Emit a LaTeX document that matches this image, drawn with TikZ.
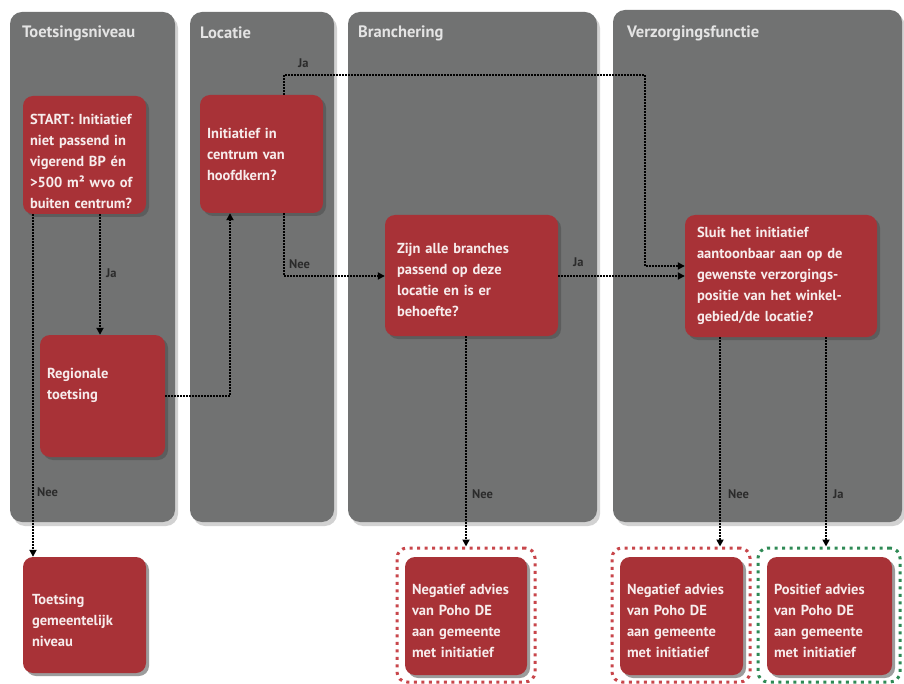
\documentclass[tikz,border=0pt]{standalone}
\usepackage{fontspec}
\setmainfont{PT Sans}
\usetikzlibrary{shadows,arrows.meta}
\definecolor{lanegray}{HTML}{717272}
\definecolor{boxred}{HTML}{A83237}
\definecolor{txtwhite}{HTML}{F7ECEC}
\definecolor{hdrtxt}{HTML}{E4E4E4}
\definecolor{negdot}{HTML}{C8464B}
\definecolor{posdot}{HTML}{2F8A55}
\definecolor{lbl}{HTML}{2B2B2B}
\tikzset{
 lane/.style={fill=lanegray, rounded corners=12pt, drop shadow={shadow xshift=3pt, shadow yshift=-4pt, opacity=0.35, fill=black!50}},
 hdr/.style={anchor=west, text=hdrtxt, font=\fontsize{16.5}{18}\selectfont\bfseries, inner sep=0pt},
 redbox/.style={fill=boxred, rounded corners=10pt, text=txtwhite, align=left, font=\fontsize{14.5}{21}\selectfont\bfseries, inner xsep=7pt, inner ysep=0pt, drop shadow={shadow xshift=3pt, shadow yshift=-3pt, opacity=0.55, fill=black!70}},
 tshift/.style={execute at end node={\par\vspace*{#1}}},
 frame/.style={fill=white, rounded corners=10pt, line width=3pt, dash pattern=on 3pt off 4.5pt, inner sep=0pt},
 conn/.style={line width=2.2pt, dash pattern=on 1.5pt off 1.5pt, draw=black, -{Triangle[length=7pt,width=7pt]}},
 lab/.style={anchor=west, text=lbl, font=\fontsize{12.5}{14}\selectfont\bfseries, inner sep=0pt},
}
\begin{document}
\begin{tikzpicture}[x=1pt,y=-1pt]
\useasboundingbox[fill=white] (0,0) rectangle (904,684);
% lanes
\path[lane] (10,12) rectangle (175,522);
\path[lane] (190,12) rectangle (334,522);
\path[lane] (348,12) rectangle (597,522);
\path[lane] (613,10) rectangle (902,522);
\node[hdr] (h1) at (22,33) {Toetsingsniveau};
\node[hdr] (h2) at (200,33) {Locatie};
\node[hdr] (h3) at (358,33) {Branchering};
\node[hdr] (h4) at (627,33) {Verzorgingsfunctie};
% boxes
\node[redbox, tshift=-12pt, minimum width=123pt, text width=109pt, minimum height=118pt] (start) at (84.5,155) {START:~Initiatief\\niet~passend~in\\vigerend~BP~én\\>500~m²~wvo~of\\buiten~centrum?};
\node[redbox, minimum width=123pt, text width=109pt, minimum height=118pt] (init) at (261.5,154) {Initiatief in\\centrum van\\hoofdkern?};
\node[redbox, tshift=22pt, minimum width=125pt, text width=111pt, minimum height=122pt] (reg) at (102.5,396) {Regionale\\toetsing};
\node[redbox, tshift=-8pt, minimum width=173pt, text width=149pt, minimum height=121pt, inner xsep=12pt] (zijn) at (471.5,275.5) {Zijn alle branches\\passend op deze\\locatie en is er\\behoefte?};
\node[redbox, minimum width=192pt, text width=168pt, minimum height=122pt, inner xsep=12pt] (sluit) at (781,276) {Sluit het initiatief\\aantoonbaar~aan~op~de\\gewenste~verzorgings-\\positie~van~het~winkel-\\gebied/de~locatie?};
\node[redbox, tshift=-10pt, minimum width=123pt, text width=105pt, minimum height=116pt, inner xsep=9pt] (toets) at (84.5,615) {Toetsing\\gemeentelijk\\niveau};
% outcome frames
\node[frame, draw=negdot, minimum width=138pt, minimum height=134pt] (neg1o) at (466,615) {};
\node[frame, draw=negdot, minimum width=138pt, minimum height=134pt] (neg2o) at (681,615) {};
\node[frame, draw=posdot, minimum width=142pt, minimum height=134pt] (poso) at (829,615) {};
\node[redbox, tshift=-10pt, minimum width=122pt, text width=108pt, minimum height=118pt] (neg1) at (466,616) {Negatief~advies\\van Poho DE\\aan gemeente\\met initiatief};
\node[redbox, tshift=-10pt, minimum width=123pt, text width=109pt, minimum height=118pt] (neg2) at (681.5,616) {Negatief~advies\\van Poho DE\\aan gemeente\\met initiatief};
\node[redbox, tshift=-10pt, minimum width=125pt, text width=111pt, minimum height=118pt] (pos) at (829.5,616) {Positief advies\\van Poho DE\\aan gemeente\\met initiatief};
% helper coordinates
\coordinate (xja1) at (100,0);
\coordinate (xnee1) at (33,0);
\coordinate (xreg) at (230,0);
\coordinate (xinit) at (284,0);
\coordinate (jaturn) at (645,75);
\coordinate (yja) at (0,266);
\coordinate (yzs) at (0,276);
\coordinate (xnee3) at (720,0);
\coordinate (xja3) at (826,0);
% connectors
\draw[conn] (start.south -| xja1) -- (reg.north -| xja1);
\node[lab] (lja1) at (106,273) {Ja};
\draw[conn] (start.south -| xnee1) -- (toets.north -| xnee1);
\node[lab] (lnee1) at (37,492) {Nee};
\draw[conn] (reg.east) -| (init.south -| xreg);
\draw[conn] (init.north -| xinit) |- (jaturn) |- (sluit.west |- yja);
\node[lab] (lja2) at (298,63) {Ja};
\draw[conn] (init.south -| xinit) |- (zijn.west |- yzs);
\node[lab] (lnee2) at (289,264) {Nee};
\draw[conn] (zijn.east |- yzs) -- (sluit.west |- yzs);
\node[lab] (lja3) at (573,262) {Ja};
\draw[conn] (zijn.south -| neg1o.north) -- (neg1o.north);
\node[lab] (lnee3) at (472,494) {Nee};
\draw[conn] (sluit.south -| xnee3) -- (neg2o.north -| xnee3);
\node[lab] (lnee4) at (728,494) {Nee};
\draw[conn] (sluit.south -| xja3) -- (poso.north -| xja3);
\node[lab] (lja4) at (833,494) {Ja};
\end{tikzpicture}
\end{document}
